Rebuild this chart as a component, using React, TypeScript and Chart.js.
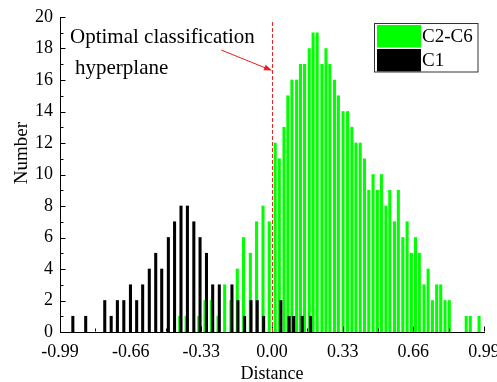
import React, { useEffect, useRef } from "react";
import { Chart, registerables } from "chart.js";

Chart.register(...registerables);

// ---- data ----
const seriesNames = ["C2-C6", "C1"];
const greenX = [-0.431, -0.401, -0.342, -0.313, -0.283, -0.252, -0.221, -0.192, -0.162, -0.133,
  -0.101, -0.072, -0.042, -0.013, 0.015, 0.034, 0.056, 0.074, 0.093, 0.115,
  0.133, 0.152, 0.174, 0.192, 0.211, 0.233, 0.252, 0.270, 0.292, 0.310,
  0.332, 0.353, 0.373, 0.392, 0.412, 0.432, 0.452, 0.472, 0.492, 0.511,
  0.532, 0.550, 0.572, 0.590, 0.611, 0.631, 0.651, 0.670, 0.688, 0.710,
  0.729, 0.749, 0.769, 0.788, 0.808, 0.828, 0.907, 0.926, 0.967];
const greenY = [1, 1, 1, 2, 2, 1, 3, 2, 4, 6,
  5, 7, 8, 7, 12, 11, 13, 15, 16, 16,
  17, 17, 18, 19, 19, 17, 18, 17, 16, 15,
  14, 14, 13, 12, 12, 11, 9, 10, 9, 10,
  8, 9, 7, 9, 6, 7, 5, 6, 5, 3,
  4, 2, 3, 3, 2, 2, 1, 1, 1];
const blackX = [-0.930, -0.870, -0.781, -0.751, -0.722, -0.692, -0.661, -0.632, -0.604, -0.573,
  -0.543, -0.515, -0.484, -0.455, -0.425, -0.395, -0.365, -0.336, -0.306, -0.277,
  -0.246, -0.187, -0.159, -0.128, -0.098, -0.069, -0.039, 0.041, 0.080, 0.101,
  0.141, 0.180];
const blackY = [1, 1, 2, 1, 2, 2, 3, 2, 3, 4,
  5, 4, 6, 7, 8, 8, 7, 6, 5, 3,
  3, 3, 2, 1, 2, 2, 1, 2, 1, 1,
  1, 1];

const xTicks = [-0.99, -0.66, -0.33, 0.0, 0.33, 0.66, 0.99];
const xTickLabels = ["-0.99", "-0.66", "-0.33", "0.00", "0.33", "0.66", "0.99"];
const xMinorTicks = [-0.825, -0.495, -0.165, 0.165, 0.495, 0.825];
const yTicks = [0, 2, 4, 6, 8, 10, 12, 14, 16, 18, 20];
const yMinorTicks = [1, 3, 5, 7, 9, 11, 13, 15, 17, 19];
const xTitle = "Distance";
const yTitle = "Number";
const annotationLines = ["Optimal classification", "hyperplane"];
const hyperplaneX = 0;

const FONT = "'Liberation Serif', 'Times New Roman', serif";

const decor = {
  id: "decor",
  afterDatasetsDraw(chart: any) {
    const { ctx, chartArea: ca, scales } = chart;
    const x = scales.x;
    const y = scales.y;
    ctx.save();

    // inward ticks
    ctx.strokeStyle = "#000";
    ctx.lineWidth = 1;
    ctx.beginPath();
    const L = ca.left + 0.5;
    for (const v of yTicks) {
      const py = Math.round(y.getPixelForValue(v)) + 0.5;
      ctx.moveTo(L, py); ctx.lineTo(L + 5, py);
    }
    for (const v of yMinorTicks) {
      const py = Math.round(y.getPixelForValue(v)) + 0.5;
      ctx.moveTo(L, py); ctx.lineTo(L + 3, py);
    }
    const B = ca.bottom - 0.5;
    for (const v of xTicks) {
      const px = Math.round(x.getPixelForValue(v)) + 0.5;
      ctx.moveTo(px, B); ctx.lineTo(px, B - 5);
    }
    for (const v of xMinorTicks) {
      const px = Math.round(x.getPixelForValue(v)) + 0.5;
      ctx.moveTo(px, B); ctx.lineTo(px, B - 3);
    }
    ctx.stroke();

    // dashed hyperplane
    const hx = Math.round(x.getPixelForValue(hyperplaneX)) + 0.5;
    ctx.strokeStyle = "rgb(235,40,40)";
    ctx.setLineDash([4, 2]);
    ctx.beginPath();
    ctx.moveTo(hx, ca.top + 5);
    ctx.lineTo(hx, ca.bottom);
    ctx.stroke();
    ctx.setLineDash([]);

    // arrow
    const ax0 = x.getPixelForValue(-0.237), ay0 = y.getPixelForValue(17.9);
    const ax1 = hx - 0.5, ay1 = y.getPixelForValue(16.6);
    const ang = Math.atan2(ay1 - ay0, ax1 - ax0);
    ctx.strokeStyle = "rgb(235,30,30)";
    ctx.fillStyle = "rgb(235,30,30)";
    ctx.beginPath();
    ctx.moveTo(ax0, ay0);
    ctx.lineTo(ax1 - 6 * Math.cos(ang), ay1 - 6 * Math.sin(ang));
    ctx.stroke();
    ctx.beginPath();
    ctx.moveTo(ax1, ay1);
    ctx.lineTo(ax1 - 8 * Math.cos(ang) + 3 * Math.sin(ang), ay1 - 8 * Math.sin(ang) - 3 * Math.cos(ang));
    ctx.lineTo(ax1 - 8 * Math.cos(ang) - 3 * Math.sin(ang), ay1 - 8 * Math.sin(ang) + 3 * Math.cos(ang));
    ctx.closePath();
    ctx.fill();

    // annotation text
    ctx.fillStyle = "#000";
    ctx.font = `21px ${FONT}`;
    ctx.textAlign = "left";
    ctx.textBaseline = "alphabetic";
    ctx.fillText(annotationLines[0], ca.left + 10, 42.5);
    ctx.fillText(annotationLines[1], ca.left + 15, 74);

    // legend
    const lx = 374.5, ly = 23.5, lw = 103.5, lh = 48.5;
    ctx.fillStyle = "#fff";
    ctx.fillRect(lx, ly, lw, lh);
    ctx.fillStyle = "#00ff00";
    ctx.fillRect(377, 25, 44, 22.5);
    ctx.fillStyle = "#000";
    ctx.fillRect(377, 49, 44, 22.5);
    ctx.strokeStyle = "#333";
    ctx.lineWidth = 1;
    ctx.strokeRect(lx, ly, lw, lh);
    ctx.fillStyle = "#000";
    ctx.font = `19px ${FONT}`;
    ctx.textBaseline = "middle";
    ctx.fillText(seriesNames[0], 422, 37);
    ctx.fillText(seriesNames[1], 422, 61);

    // axis titles
    ctx.font = `18px ${FONT}`;
    ctx.textAlign = "center";
    ctx.textBaseline = "alphabetic";
    ctx.fillText(xTitle, (ca.left + ca.right) / 2, 378.5);
    ctx.save();
    ctx.translate(26.5, 153);
    ctx.rotate(-Math.PI / 2);
    ctx.font = `19px ${FONT}`;
    ctx.fillText(yTitle, 0, 0);
    ctx.restore();

    ctx.restore();
  },
};

export default function App() {
  const ref = useRef<HTMLCanvasElement | null>(null);
  useEffect(() => {
    if (!ref.current) return;
    const chart = new Chart(ref.current, {
      type: "bar",
      data: {
        datasets: [
          {
            label: seriesNames[1],
            data: blackX.map((v, i) => ({ x: v, y: blackY[i] })),
            backgroundColor: "#000000",
            barThickness: 2.4,
            order: 0,
          },
          {
            label: seriesNames[0],
            data: greenX.map((v, i) => ({ x: v, y: greenY[i] })),
            backgroundColor: "#00ff00",
            barThickness: 2.4,
            order: 1,
          },
        ],
      },
      options: {
        responsive: false,
        animation: false,
        grouped: false,
        layout: { padding: { left: 0, right: 13, top: 17, bottom: 0 } },
        plugins: { legend: { display: false }, tooltip: { enabled: false }, title: { display: false } },
        scales: {
          x: {
            type: "linear",
            min: -0.99,
            max: 0.99,
            offset: false,
            grid: { display: false, drawTicks: false, offset: false },
            border: { display: true, color: "#000", width: 1 },
            afterBuildTicks: (s: any) => { s.ticks = xTicks.map((v) => ({ value: v })); },
            afterFit: (s: any) => { s.height = 50; s.paddingLeft = 0; s.paddingRight = 0; },
            ticks: {
              autoSkip: false,
              maxRotation: 0,
              padding: 9,
              color: "#000",
              font: { family: FONT, size: 18 },
              callback: (_v: any, i: number) => xTickLabels[i],
            },
          },
          y: {
            type: "linear",
            min: 0,
            max: 20,
            grid: { display: false, drawTicks: false },
            border: { display: true, color: "#000", width: 1 },
            afterBuildTicks: (s: any) => { s.ticks = yTicks.map((v) => ({ value: v })); },
            afterFit: (s: any) => { s.width = 60; s.paddingTop = 0; s.paddingBottom = 0; },
            ticks: {
              autoSkip: false,
              padding: 7,
              color: "#000",
              font: { family: FONT, size: 18 },
              callback: (v: any) => String(v),
            },
          },
        },
      } as any,
      plugins: [decor],
    });
    return () => chart.destroy();
  }, []);
  return (
    <div style={{ position: "fixed", left: 0, top: 0, width: 497, height: 382, background: "#fff" }}>
      <canvas ref={ref} width={497} height={382} />
    </div>
  );
}
